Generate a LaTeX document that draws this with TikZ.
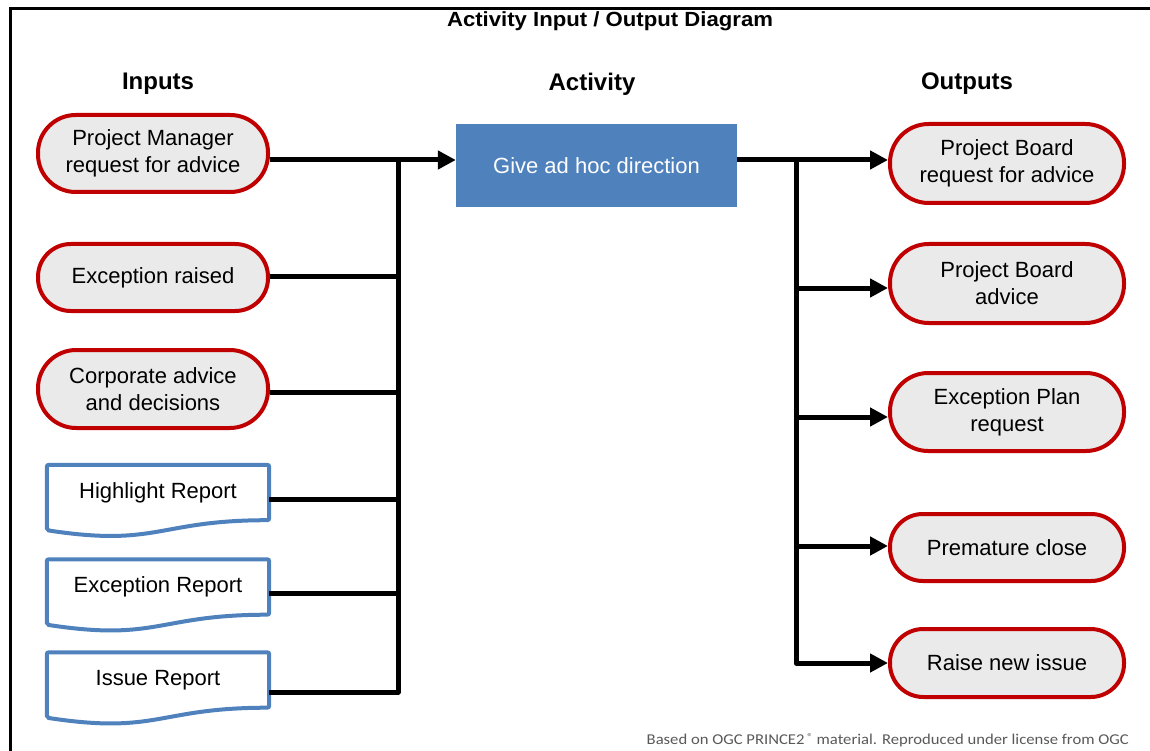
\documentclass[tikz,border=0pt]{standalone}
\usepackage{fontspec}
\setmainfont{Liberation Sans}
\newfontfamily\notefont{Carlito}
\usetikzlibrary{arrows.meta,calc}
\definecolor{pillred}{HTML}{C00000}
\definecolor{pillfill}{HTML}{EAEAEA}
\definecolor{actblue}{HTML}{4F81BD}
\definecolor{notegray}{HTML}{595959}
\newcommand\docoutline[1]{%
  \draw[docline] (#1.north west) -- (#1.north east) -- (#1.south east)
    .. controls ($(#1.south)$) and ($(#1.south)+(0,27)$) .. ($(#1.south west)+(0,10)$) -- cycle;}
\begin{document}
\begin{tikzpicture}[x=1pt,y=-1pt,
  txt/.style={font=\fontsize{22}{27}\selectfont, align=center},
  pill/.style={txt, rectangle, draw=pillred, fill=pillfill, line width=4pt,
    inner sep=0pt, minimum height=#1, rounded corners=0.49*#1},
  inpill/.style={pill=#1, minimum width=230pt},
  outpill/.style={pill=#1, minimum width=234pt},
  doc/.style={txt, rectangle, inner sep=0pt, minimum width=222pt, minimum height=55pt},
  docline/.style={draw=actblue, fill=white, line width=4pt, rounded corners=2pt},
  actbox/.style={txt, rectangle, fill=actblue, text=white, inner sep=0pt,
    minimum width=281pt, minimum height=83pt},
  head/.style={font=\fontsize{24}{28}\selectfont\bfseries},
  conn/.style={line width=5pt, line join=round},
  arr/.style={-{Triangle[length=18pt,width=18pt]}},
  frame/.style={line width=3pt}
]
\useasboundingbox (0,0) rectangle (1150,751);
\draw[frame] (10.5,751) -- (10.5,8.5) -- (1150,8.5);

\node[font=\fontsize{20.5}{24}\selectfont\bfseries] (title) at (610,21)
  {\scalebox{1.08}[1]{Activity Input / Output Diagram}};
\node[head] (hin) at (158,84) {Inputs};
\node[head] (hact) at (592,84) {Activity};
\node[head] (hout) at (967,84) {Outputs};

% inputs
\node[inpill=77pt] (pm) at (153,153.5) {Project Manager\\request for advice};
\node[inpill=67pt] (er) at (153,277.5) {Exception raised};
\node[inpill=78pt] (cd) at (153,389) {Corporate advice\\and decisions};
\node[doc] (hr) at (158,492.5) {};
\docoutline{hr}
\node[doc] at (hr) {Highlight Report};
\node[doc] (xr) at (158,587) {};
\docoutline{xr}
\node[doc] at (xr) {Exception Report};
\node[doc] (ir) at (158,680) {};
\docoutline{ir}
\node[doc] at (ir) {Issue Report};

% activity
\node[actbox] (act) at (596.5,165.5) {Give ad hoc direction};

% outputs
\node[outpill=79pt] (o1) at (1007,163.5) {Project Board\\request for advice};
\node[outpill=79pt] (o2) at (1007,283.5) {Project Board\\advice};
\node[outpill=78pt] (o3) at (1007,412) {Exception Plan\\request};
\node[outpill=67pt] (o4) at (1007,547.5) {Premature close};
\node[outpill=68pt] (o5) at (1007,663) {Raise new issue};

% input connectors
\coordinate (ib) at (398,160);
\coordinate (ob) at (796,160);
\draw[conn,arr] (pm.east |- ib) -- (act.west |- ib);
\coordinate (irc) at ([yshift=-12pt]ir.east);
\draw[conn] (ib) -- (ib |- irc) -- (irc);
\draw[conn] ([yshift=1.5pt]er.east) -- ([yshift=1.5pt]er.east -| ib);
\draw[conn] ([yshift=-3pt]cd.east) -- ([yshift=-3pt]cd.east -| ib);
\draw[conn] ([yshift=-6.5pt]hr.east) -- ([yshift=-6.5pt]hr.east -| ib);
\draw[conn] ([yshift=-6pt]xr.east) -- ([yshift=-6pt]xr.east -| ib);

% output connectors
\draw[conn,arr] (act.east |- ob) -- (o1.west |- ob);
\draw[conn,arr] (ob) -- (ob |- o5.west) -- (o5.west);
\draw[conn,arr] ([yshift=-4.5pt]o2.west -| ob) -- ([yshift=-4.5pt]o2.west);
\draw[conn,arr] ([yshift=-5pt]o3.west -| ob) -- ([yshift=-5pt]o3.west);
\draw[conn,arr] ([yshift=1.5pt]o4.west -| ob) -- ([yshift=1.5pt]o4.west);

\node[anchor=east, text=notegray, inner sep=0pt] (note) at (1129,740)
  {\notefont\fontsize{15}{17}\selectfont\scalebox{1.11}[1]{Based on OGC PRINCE2\,\raisebox{4pt}{\fontsize{10}{10}\selectfont ®} material. Reproduced under license from OGC}};
\end{tikzpicture}
\end{document}
